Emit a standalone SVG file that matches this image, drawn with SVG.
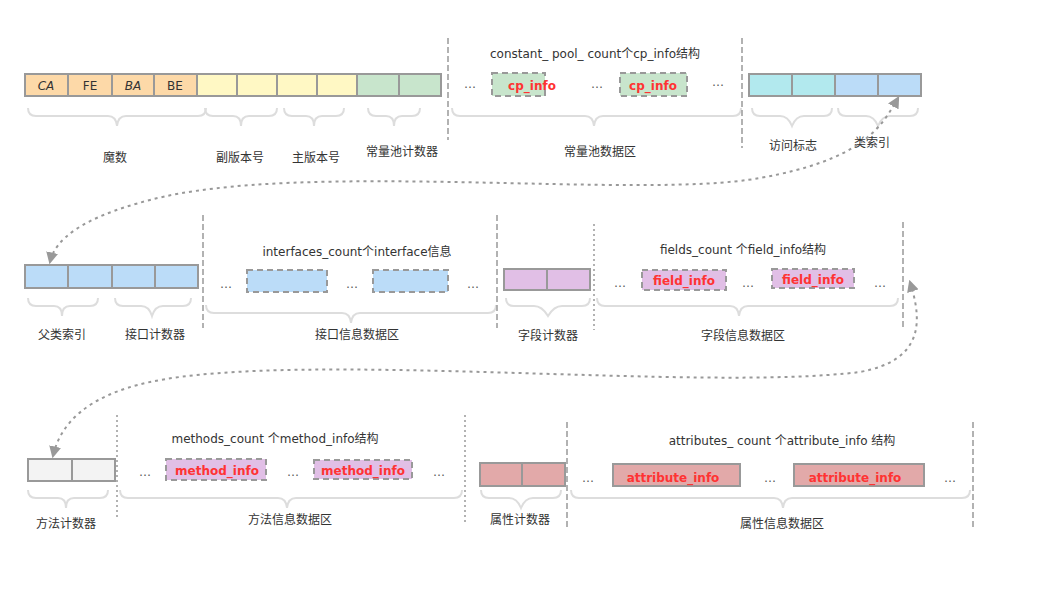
<svg xmlns="http://www.w3.org/2000/svg" width="1057" height="603" viewBox="0 0 1057 603">
<defs>
<style>
text{font-family:"DejaVu Sans","Noto Sans CJK SC",sans-serif;font-size:12px;fill:#333;text-anchor:middle}
.c{stroke:#999;stroke-width:2}
.d{stroke:#999;stroke-width:2;stroke-dasharray:6 4}
.r{fill:#ff3333;font-weight:bold}
.br{fill:none;stroke:#ddd;stroke-width:2}
.sep{stroke:#999;stroke-width:1.5;stroke-dasharray:6 3}
.sepd{stroke:#999;stroke-width:1.5;stroke-dasharray:2 3}
.dots{fill:#555}
.arc{fill:none;stroke:#999;stroke-width:2;stroke-dasharray:3 4}
</style>
<marker id="a" viewBox="0 0 10 10" refX="8" refY="5" markerWidth="6" markerHeight="6" orient="auto-start-reverse"><path d="M0,0L10,5L0,10z" fill="#999"/></marker>
</defs>
<g id="row1">
<rect x="25" y="74" width="172" height="22" fill="#fdd9a8"/>
<rect x="197" y="74" width="160" height="22" fill="#fff8c4"/>
<rect x="357" y="74" width="84" height="22" fill="#c8e5cc"/>
<path class="c" fill="none" d="M25,74H441V96H25Z M68,74V96 M112,74V96 M154,74V96 M197,74V96 M237,74V96 M277,74V96 M317,74V96 M357,74V96 M399,74V96"/>
<text x="46" y="90" font-style="italic">CA</text><text x="90" y="90">FE</text><text x="133" y="90" font-style="italic">BA</text><text x="175" y="90">BE</text>
<path class="br" d="M28,108q0,8 8,8h72q8,0 9,10q1,-10 9,-10h72q8,0 8,-8"/>
<path class="br" d="M205,108q0,8 8,8h20q8,0 8,10q0,-10 8,-10h20q8,0 8,-8"/>
<path class="br" d="M284,108q0,8 8,8h14q8,0 8,10q0,-10 8,-10h14q8,0 8,-8"/>
<path class="br" d="M368,108q0,8 8,8h10q8,0 8,10q0,-10 8,-10h10q8,0 8,-8"/>
<text x="115" y="162">魔数</text><text x="240" y="162">副版本号</text><text x="316" y="162">主版本号</text><text x="402" y="156">常量池计数器</text>
<line class="sep" x1="448" y1="38" x2="448" y2="140"/>
<text x="595" y="58">constant_ pool_ count个cp_info结构</text>
<text class="dots" x="470" y="88">…</text><text class="dots" x="597" y="88">…</text><text class="dots" x="718" y="86">…</text>
<rect class="d" x="492" y="73" width="53" height="23" fill="#c8e5cc"/><text class="r" x="532" y="90">cp_info</text>
<rect class="d" x="620" y="73" width="67" height="23" fill="#c8e5cc"/><text class="r" x="653" y="90">cp_info</text>
<path class="br" d="M452,108q0,8 8,8h125q8,0 9,10q1,-10 9,-10h130q8,0 8,-8"/>
<text x="600" y="156">常量池数据区</text>
<line class="sep" x1="742" y1="38" x2="742" y2="148"/>
<rect x="749" y="74" width="86" height="22" fill="#b2e9ee"/>
<rect x="835" y="74" width="86" height="22" fill="#bbdcf8"/>
<path class="c" fill="none" d="M749,74H921V96H749Z M792,74V96 M835,74V96 M878,74V96"/>
<path class="br" d="M752,108q0,8 8,8h20q8,0 12,10q4,-10 12,-10h20q8,0 8,-8"/>
<path class="br" d="M838,108q0,8 8,8h20q8,0 12,10q4,-10 12,-10h20q8,0 8,-8"/>
<text x="793" y="150">访问标志</text><text x="872" y="147">类索引</text>
</g>
<g id="row2">
<rect x="25" y="265" width="173" height="23" fill="#bbdcf8"/>
<path class="c" fill="none" d="M25,265H198V288H25Z M68,265V288 M112,265V288 M155,265V288"/>
<path class="br" d="M28,298q0,8 8,8h18q8,0 8,10q0,-10 8,-10h20q8,0 8,-8"/>
<path class="br" d="M115,298q0,8 8,8h18q8,0 11,10q3,-10 11,-10h20q8,0 8,-8"/>
<text x="62" y="339">父类索引</text><text x="155" y="339">接口计数器</text>
<line class="sep" x1="203" y1="215" x2="203" y2="328"/>
<text x="357" y="256">interfaces_count个interface信息</text>
<text class="dots" x="226" y="288">…</text><text class="dots" x="352" y="288">…</text><text class="dots" x="473" y="288">…</text>
<rect class="d" x="247" y="270" width="80" height="22" fill="#bbdcf8"/>
<rect class="d" x="373" y="270" width="75" height="22" fill="#bbdcf8"/>
<path class="br" d="M206,305q0,8 8,8h128q8,0 9,10q1,-10 9,-10h128q8,0 8,-8"/>
<text x="357" y="339">接口信息数据区</text>
<line class="sep" x1="497" y1="215" x2="497" y2="328"/>
<rect x="504" y="269" width="86" height="21" fill="#e1bfe6"/>
<path class="c" fill="none" d="M504,269H590V290H504Z M547,269V290"/>
<path class="br" d="M506,298q0,8 8,8h20q8,0 14,10q6,-10 14,-10h20q8,0 8,-8"/>
<text x="548" y="340">字段计数器</text>
<line class="sepd" x1="594" y1="224" x2="594" y2="330"/>
<text x="743" y="254">fields_count 个field_info结构</text>
<text class="dots" x="620" y="287">…</text><text class="dots" x="748" y="287">…</text><text class="dots" x="880" y="287">…</text>
<rect class="d" x="642" y="270" width="84" height="20" fill="#e1bfe6"/><text class="r" x="684" y="285">field_info</text>
<rect class="d" x="772" y="269" width="82" height="19" fill="#e1bfe6"/><text class="r" x="813" y="284">field_info</text>
<path class="br" d="M597,298q0,8 8,8h125q8,0 9,10q1,-10 9,-10h142q8,0 8,-8"/>
<text x="743" y="340">字段信息数据区</text>
<line class="sep" x1="903" y1="222" x2="903" y2="328"/>
</g>
<g id="row3">
<rect x="28" y="459" width="87" height="22" fill="#f3f3f3"/>
<path class="c" fill="none" d="M28,459H115V481H28Z M72,459V481"/>
<path class="br" d="M28,490q0,8 8,8h22q8,0 8,10q0,-10 8,-10h26q8,0 8,-8"/>
<text x="66" y="528">方法计数器</text>
<line class="sepd" x1="117" y1="415" x2="117" y2="520"/>
<text x="275" y="443">methods_count 个method_info结构</text>
<text class="dots" x="145" y="476">…</text><text class="dots" x="293" y="476">…</text><text class="dots" x="439" y="476">…</text>
<rect class="d" x="166" y="459" width="100" height="21" fill="#e1bfe6"/><text class="r" x="217" y="475">method_info</text>
<rect class="d" x="314" y="460" width="98" height="19" fill="#e1bfe6"/><text class="r" x="363" y="475">method_info</text>
<path class="br" d="M120,490q0,8 8,8h150q8,0 9,10q1,-10 9,-10h158q8,0 8,-8"/>
<text x="290" y="524">方法信息数据区</text>
<line class="sepd" x1="465" y1="415" x2="465" y2="522"/>
<rect x="480" y="463" width="85" height="23" fill="#e2a9a9"/>
<path class="c" fill="none" d="M480,463H565V486H480Z M522,463V486"/>
<path class="br" d="M481,490q0,8 8,8h20q8,0 12,10q4,-10 12,-10h20q8,0 8,-8"/>
<text x="520" y="524">属性计数器</text>
<line class="sep" x1="567" y1="422" x2="567" y2="530"/>
<text x="782" y="445">attributes_ count 个attribute_info 结构</text>
<text class="dots" x="588" y="482">…</text><text class="dots" x="770" y="482">…</text><text class="dots" x="950" y="482">…</text>
<rect class="c" x="613" y="464" width="127" height="22" fill="#e2a9a9"/><text class="r" x="673" y="482">attribute_info</text>
<rect class="c" x="794" y="464" width="130" height="22" fill="#e2a9a9"/><text class="r" x="855" y="482">attribute_info</text>
<path class="br" d="M571,490q0,8 8,8h195q8,0 9,10q1,-10 9,-10h170q8,0 8,-8"/>
<text x="782" y="528">属性信息数据区</text>
<line class="sep" x1="973" y1="422" x2="973" y2="530"/>
</g>
<g id="connectors">
<path class="arc" marker-start="url(#a)" marker-end="url(#a)" d="M898,98 C880,130 860,160 760,178 C640,200 300,160 150,200 C80,218 55,240 50,262"/>
<path class="arc" marker-start="url(#a)" marker-end="url(#a)" d="M910,282 C922,320 925,360 860,372 C700,392 300,350 150,382 C85,396 60,425 53,456"/>
</g>
</svg>
